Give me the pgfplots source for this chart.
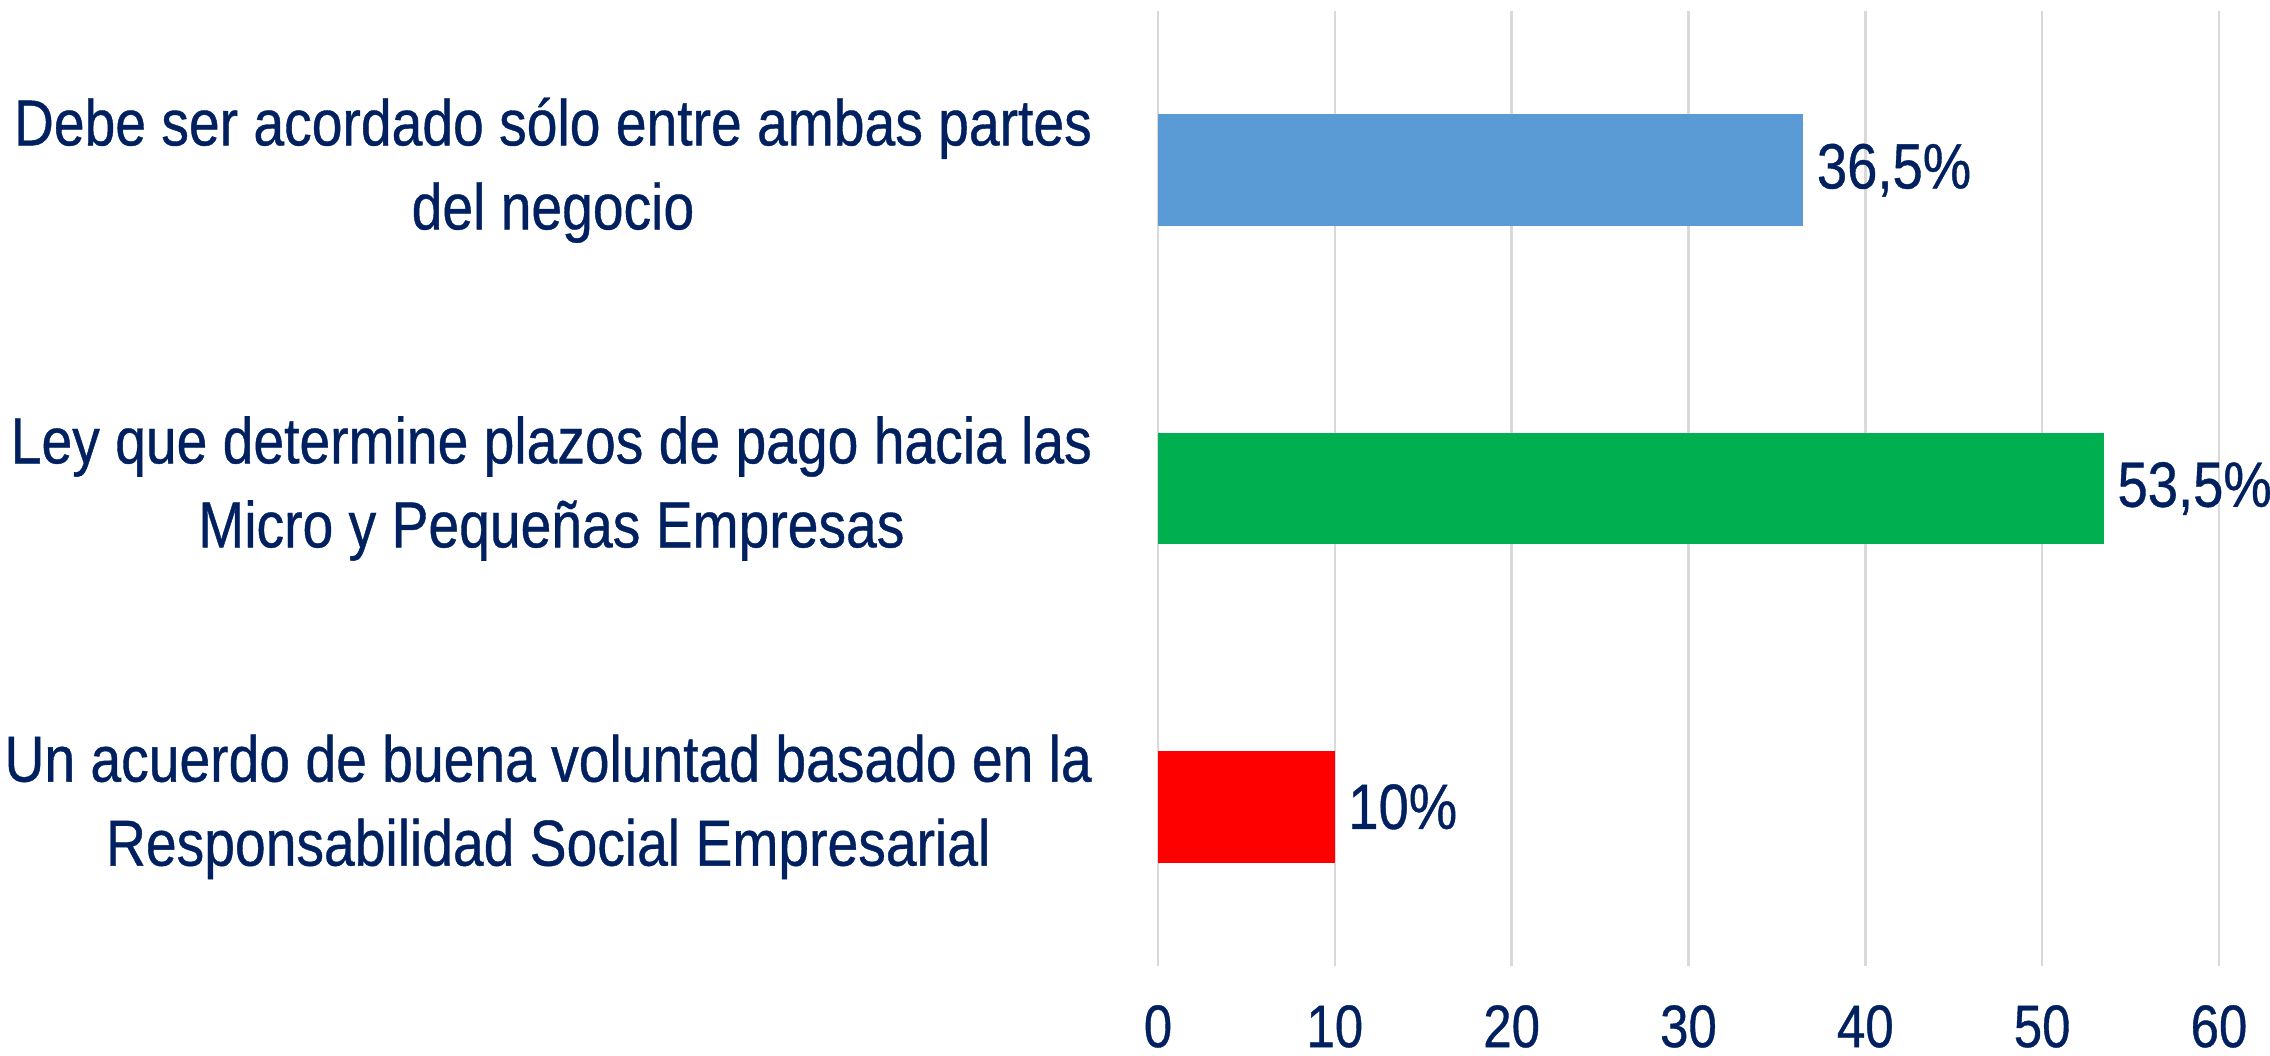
\documentclass[border=0pt]{standalone}
\usepackage{fontspec}
\setmainfont{Liberation Sans}[FakeStretch=0.85, FakeBold=0.6]
\usepackage{pgfplots}
\pgfplotsset{compat=1.18}
\definecolor{navy}{HTML}{002060}
\definecolor{barblue}{HTML}{5B9BD5}
\definecolor{bargreen}{HTML}{00B050}
\definecolor{barred}{HTML}{FF0000}
\definecolor{gridgray}{HTML}{D9D9D9}

\begin{document}
\begin{tikzpicture}
\begin{axis}[
    at={(0,0)}, anchor=south west,
    scale only axis,
    width=212.2pt, height=191pt,
    xbar, bar width=22.3pt, bar shift=0pt,
    xmin=0, xmax=60, ymin=-0.5, ymax=2.5,
    y dir=reverse,
    axis line style={draw=none},
    major tick length=0pt,
    xtick={0,10,...,60},
    ytick={0,1,2},
    yticklabels={{Debe ser acordado sólo entre ambas partes\\del negocio},
                 {Ley que determine plazos de pago hacia las\\Micro y Pequeñas Empresas},
                 {Un acuerdo de buena voluntad basado en la\\Responsabilidad Social Empresarial}},
    xmajorgrids, ymajorgrids=false,
    grid style={gridgray, line width=0.5pt},
    /pgf/number format/assume math mode=true,
    xticklabel style={font=\fontsize{12}{14}\selectfont, text=navy, yshift=-4.3pt},
    yticklabel style={font=\fontsize{13}{16.8}\selectfont, text=navy,
        align=center, inner sep=0pt, xshift=-13pt},
    nodes near coords, point meta=explicit symbolic,
    every node near coord/.append style={font=\fontsize{12.8}{15}\selectfont,
        text=navy, inner sep=2.5pt, anchor=west},
]
\addplot[fill=barblue, draw=none] coordinates {(36.5,0) [{36,5\%}]};
\addplot[fill=bargreen, draw=none] coordinates {(53.5,1) [{53,5\%}]};
\addplot[fill=barred, draw=none] coordinates {(10,2) [{10\%}]};
\end{axis}
\pgfresetboundingbox
\useasboundingbox (-231.6pt,-17.8pt) rectangle (222.4pt,193.2pt);
\end{tikzpicture}
\end{document}
